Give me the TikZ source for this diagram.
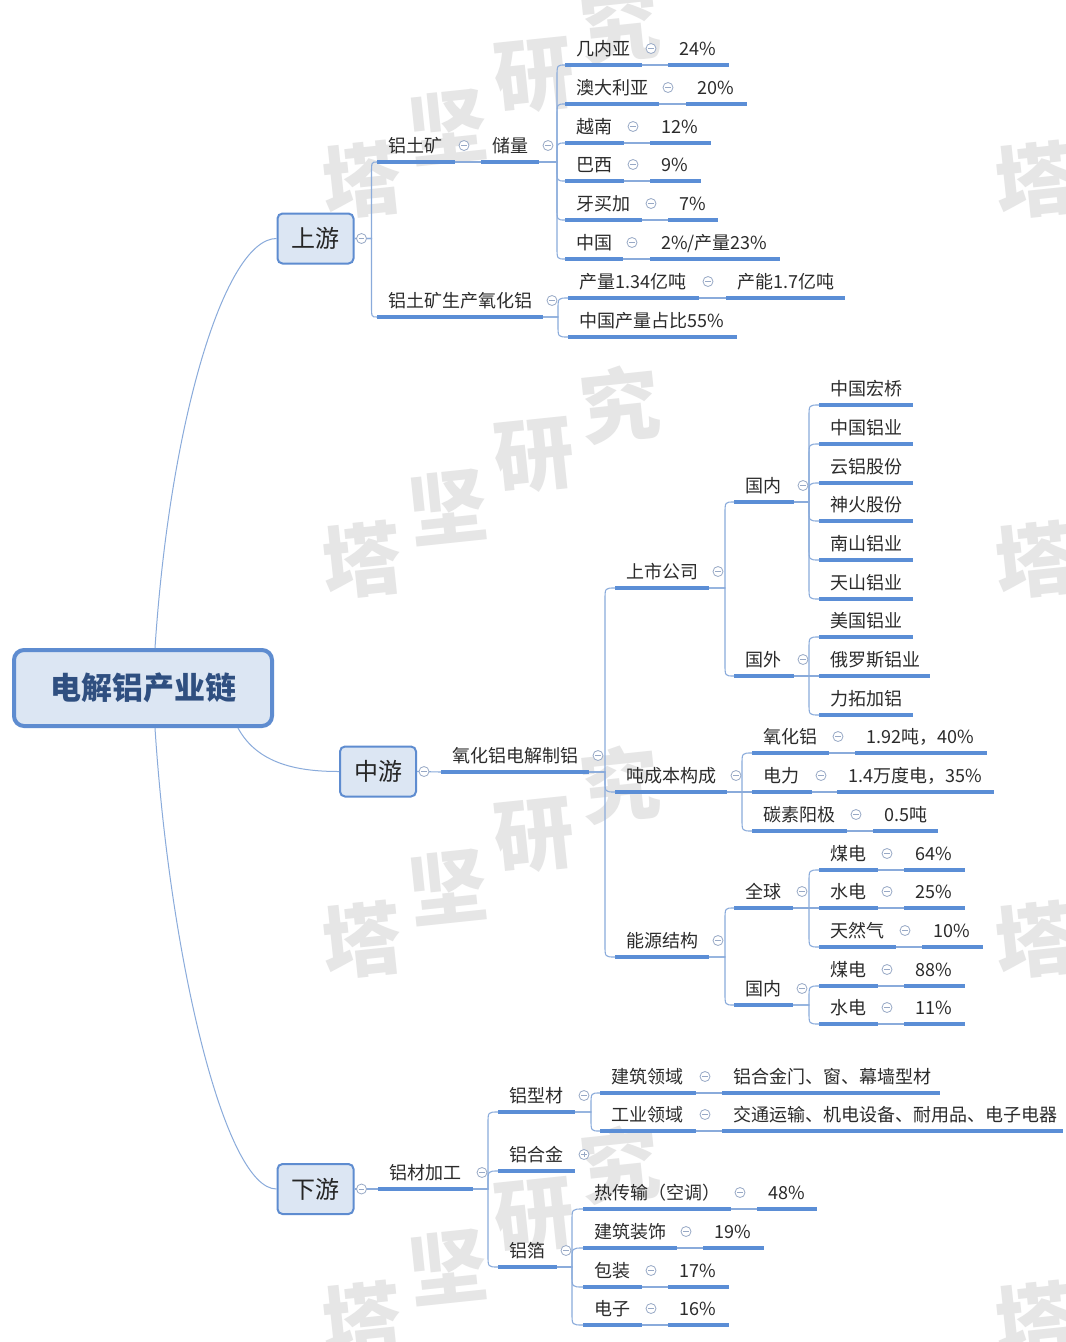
\documentclass[tikz,border=0pt]{standalone}
\usepackage{fontspec}
\newfontfamily\cjk{Noto Sans CJK SC}
\usetikzlibrary{calc}
\definecolor{ulc}{HTML}{5B8ED6}
\definecolor{connc}{HTML}{8AABDB}
\definecolor{boxfill}{HTML}{DCE6F3}
\definecolor{boxline}{HTML}{5E8CD0}
\definecolor{roottext}{HTML}{2F4F80}
\definecolor{iconc}{HTML}{98A9C6}
\definecolor{wmc}{HTML}{E6E6E6}
\definecolor{txt}{HTML}{2B2B2B}
\newcommand\mtopic[5]{%
  \coordinate (#1L) at (#2,#4);
  \coordinate (#1R) at (#3,#4);
  \draw[ul] (#1L) -- (#1R);
  \node[lbl] (#1) at (#2+11,#4-16.5) {#5};
}
\newcommand\mconn[4]{%
  \path ($(#1R)+(#3,0)$) coordinate (sp);
  \draw[conn] (#1R) -- (sp) -- ($(sp |- #2L)+(0,#4)$) .. controls (sp |- #2L) .. (#2L);
}
\newcommand\mconnS[2]{\draw[conn] (#1R) -- (#2L);}
\newcommand\micon[1]{%
  \node[icn] (#1I) at ($(#1R)+(9,-16.5)$) {};
  \draw[iconc, line width=0.8pt] ($(#1I)+(-2.8,0)$) -- ($(#1I)+(2.8,0)$);
}
\newcommand\miconP[1]{%
  \node[icn] (#1I) at ($(#1R)+(9,-16.5)$) {};
  \draw[iconc, line width=0.8pt] ($(#1I)+(-2.8,0)$) -- ($(#1I)+(2.8,0)$);
  \draw[iconc, line width=0.8pt] ($(#1I)+(0,-2.8)$) -- ($(#1I)+(0,2.8)$);
}
\newcommand\miconB[1]{%
  \node[icn] (#1I) at ($(#1.east)+(7,0)$) {};
  \draw[iconc, line width=0.8pt] ($(#1I)+(-2.8,0)$) -- ($(#1I)+(2.8,0)$);
}
\begin{document}
\begin{tikzpicture}[x={(1pt,0)},y={(0,-1pt)},
  ul/.style={draw=ulc, line width=3.2pt},
  conn/.style={draw=connc, line width=1.1pt},
  rconn/.style={draw=connc, line width=1pt},
  lbl/.style={font=\cjk\fontsize{18}{21}\selectfont, text=txt, inner sep=0pt, anchor=west, text height=15.8pt, text depth=2.2pt},
  lvone/.style={draw=boxline, fill=boxfill, line width=2pt, rounded corners=5pt, font=\cjk\fontsize{24}{28}\selectfont, text=black!85, minimum width=76pt, minimum height=50pt, inner sep=0pt},
  rootbox/.style={draw=boxline, fill=boxfill, line width=4pt, rounded corners=10pt, font=\cjk\bfseries\fontsize{31}{36}\selectfont, text=roottext, minimum width=258pt, minimum height=76pt, inner sep=0pt},
  icn/.style={circle, draw=iconc, fill=white, line width=0.8pt, minimum size=10pt, inner sep=0pt},
  wmk/.style={font=\cjk\bfseries\fontsize{80}{80}\selectfont, text=wmc, inner sep=0pt, rotate=6}
]
\useasboundingbox[fill=white] (0,0) rectangle (1066,1342);

% watermark
\foreach \bx/\by [count=\i] in {362/180, 362/560, 362/940, 362/1320, 1035/180, 1035/560, 1035/940, 1035/1320} {
  \node[wmk] (wm\i a) at (\bx,\by) {塔};
  \node[wmk] (wm\i b) at (\bx+86,\by-52) {坚};
  \node[wmk] (wm\i c) at (\bx+172,\by-104) {研};
  \node[wmk] (wm\i d) at (\bx+258,\by-156) {究};
}

% root and level one
\node[rootbox] (root) at (143,688) {电解铝产业链};
\node[lvone] (up) at (315.5,238.5) {上游};
\node[lvone] (mid) at (378,771.5) {中游};
\node[lvone] (down) at (315.5,1189) {下游};
\coordinate (upR) at (up.east);
\coordinate (midR) at (mid.east);
\coordinate (downR) at (down.east);
\coordinate (rootT) at ($(root.north)+(12,0)$);
\coordinate (rootB) at ($(root.south)+(12,0)$);
\coordinate (rootM) at ($(root.south east)+(-36,0)$);
\draw[rconn] (rootT) .. controls (170,420) and (225,238.5) .. (up.west);
\draw[rconn] (rootB) .. controls (170,960) and (225,1189) .. (down.west);
\draw[rconn] (rootM) .. controls (258,765) and (300,771.5) .. (mid.west);

% ---------- upstream
\mtopic{lt}{377}{455}{162}{铝土矿}
\mtopic{cl}{481}{539}{162}{储量}
\mtopic{ca}{565}{642}{65}{几内亚}   \mtopic{va}{668}{729}{65}{24\%}
\mtopic{cb}{565}{659}{104}{澳大利亚} \mtopic{vb}{686}{747}{104}{20\%}
\mtopic{cc}{565}{624}{143}{越南}     \mtopic{vc}{650}{711}{143}{12\%}
\mtopic{cd}{565}{624}{181}{巴西}     \mtopic{vd}{650}{701}{181}{9\%}
\mtopic{ce}{565}{642}{220}{牙买加}   \mtopic{ve}{668}{718}{220}{7\%}
\mtopic{cf}{565}{623}{259}{中国}     \mtopic{vf}{650}{780}{259}{2\%/产量23\%}
\mtopic{lp}{377}{543}{317}{铝土矿生产氧化铝}
\mtopic{pa}{568}{699}{298}{产量1.34亿吨} \mtopic{pb}{726}{845}{298}{产能1.7亿吨}
\mtopic{pc}{568}{737}{337}{中国产量占比55\%}

\mconn{up}{lt}{17}{12}
\mconn{up}{lp}{17}{-12}
\mconnS{lt}{cl}
\mconn{cl}{ca}{18}{12}
\mconn{cl}{cb}{18}{12}
\mconn{cl}{cc}{18}{12}
\mconn{cl}{cd}{18}{-12}
\mconn{cl}{ce}{18}{-12}
\mconn{cl}{cf}{18}{-12}
\mconnS{ca}{va}\mconnS{cb}{vb}\mconnS{cc}{vc}\mconnS{cd}{vd}\mconnS{ce}{ve}\mconnS{cf}{vf}
\mconn{lp}{pa}{15}{12}
\mconn{lp}{pc}{15}{-12}
\mconnS{pa}{pb}

% ---------- midstream
\mtopic{ox}{441}{589}{772}{氧化铝电解制铝}
\mtopic{ss}{615}{709}{588}{上市公司}
\mtopic{gn}{734}{794}{502}{国内}
\mtopic{gw}{734}{794}{676}{国外}
\mtopic{coa}{819}{913}{405}{中国宏桥}
\mtopic{cob}{819}{913}{444}{中国铝业}
\mtopic{coc}{819}{913}{483}{云铝股份}
\mtopic{cod}{819}{913}{521}{神火股份}
\mtopic{coe}{819}{913}{560}{南山铝业}
\mtopic{cof}{819}{913}{599}{天山铝业}
\mtopic{cog}{819}{913}{637}{美国铝业}
\mtopic{coh}{819}{930}{676}{俄罗斯铝业}
\mtopic{coi}{819}{913}{715}{力拓加铝}
\mtopic{dc}{615}{727}{792}{吨成本构成}
\mtopic{ka}{752}{829}{753}{氧化铝}   \mtopic{kva}{855}{987}{753}{1.92吨，40\%}
\mtopic{kb}{752}{812}{792}{电力}     \mtopic{kvb}{837}{994}{792}{1.4万度电，35\%}
\mtopic{kc}{752}{847}{831}{碳素阳极} \mtopic{kvc}{873}{938}{831}{0.5吨}
\mtopic{ny}{615}{709}{957}{能源结构}
\mtopic{qq}{734}{793}{908}{全球}
\mtopic{gd}{734}{793}{1005}{国内}
\mtopic{ea}{819}{878}{870}{煤电}   \mtopic{eva}{904}{965}{870}{64\%}
\mtopic{eb}{819}{878}{908}{水电}   \mtopic{evb}{904}{965}{908}{25\%}
\mtopic{ec}{819}{896}{947}{天然气} \mtopic{evc}{922}{983}{947}{10\%}
\mtopic{ed}{819}{878}{986}{煤电}   \mtopic{evd}{904}{965}{986}{88\%}
\mtopic{ee}{819}{878}{1024}{水电}  \mtopic{eve}{904}{965}{1024}{11\%}

\mconnS{mid}{ox}
\mconn{ox}{ss}{16}{12}
\mconn{ox}{dc}{16}{-12}
\mconn{ox}{ny}{16}{-12}
\mconn{ss}{gn}{16}{12}
\mconn{ss}{gw}{16}{-12}
\mconn{gn}{coa}{15}{12}
\mconn{gn}{cob}{15}{12}
\mconn{gn}{coc}{15}{12}
\mconn{gn}{cod}{15}{-12}
\mconn{gn}{coe}{15}{-12}
\mconn{gn}{cof}{15}{-12}
\mconn{gw}{cog}{15}{12}
\mconnS{gw}{coh}
\mconn{gw}{coi}{15}{-12}
\mconn{dc}{ka}{15}{12}
\mconnS{dc}{kb}
\mconn{dc}{kc}{15}{-12}
\mconnS{ka}{kva}\mconnS{kb}{kvb}\mconnS{kc}{kvc}
\mconn{ny}{qq}{16}{12}
\mconn{ny}{gd}{16}{-12}
\mconn{qq}{ea}{16}{12}
\mconnS{qq}{eb}
\mconn{qq}{ec}{16}{-12}
\mconn{gd}{ed}{16}{12}
\mconn{gd}{ee}{16}{-12}
\mconnS{ea}{eva}\mconnS{eb}{evb}\mconnS{ec}{evc}\mconnS{ed}{evd}\mconnS{ee}{eve}

% ---------- downstream
\mtopic{jg}{378}{473}{1189}{铝材加工}
\mtopic{xc}{498}{575}{1112}{铝型材}
\mtopic{hj}{498}{575}{1171}{铝合金}
\mtopic{lb}{498}{557}{1267}{铝箔}
\mtopic{jz}{600}{696}{1093}{建筑领域} \mtopic{jzv}{722}{940}{1093}{铝合金门、窗、幕墙型材}
\mtopic{gy}{600}{696}{1131}{工业领域} \mtopic{gyv}{722}{1063}{1131}{交通运输、机电设备、耐用品、电子电器}
\mtopic{fa}{583}{731}{1209}{热传输（空调）} \mtopic{fva}{757}{817}{1209}{48\%}
\mtopic{fb}{583}{677}{1248}{建筑装饰}     \mtopic{fvb}{703}{764}{1248}{19\%}
\mtopic{fc}{583}{642}{1287}{包装}         \mtopic{fvc}{668}{729}{1287}{17\%}
\mtopic{fd}{583}{642}{1325}{电子}         \mtopic{fvd}{668}{729}{1325}{16\%}

\mconnS{down}{jg}
\mconn{jg}{xc}{15}{12}
\mconn{jg}{hj}{15}{12}
\mconn{jg}{lb}{15}{-12}
\mconn{xc}{jz}{16}{12}
\mconn{xc}{gy}{16}{-12}
\mconnS{jz}{jzv}\mconnS{gy}{gyv}
\mconn{lb}{fa}{15}{12}
\mconn{lb}{fb}{15}{12}
\mconn{lb}{fc}{15}{-12}
\mconn{lb}{fd}{15}{-12}
\mconnS{fa}{fva}\mconnS{fb}{fvb}\mconnS{fc}{fvc}\mconnS{fd}{fvd}

% ---------- icons
\miconB{up}\miconB{mid}\miconB{down}
\micon{lt}\micon{cl}\micon{ca}\micon{cb}\micon{cc}\micon{cd}\micon{ce}\micon{cf}
\micon{lp}\micon{pa}
\micon{ox}\micon{ss}\micon{gn}\micon{gw}\micon{dc}\micon{ka}\micon{kb}\micon{kc}
\micon{ny}\micon{qq}\micon{gd}\micon{ea}\micon{eb}\micon{ec}\micon{ed}\micon{ee}
\micon{jg}\micon{xc}\miconP{hj}\micon{lb}\micon{jz}\micon{gy}
\micon{fa}\micon{fb}\micon{fc}\micon{fd}
\end{tikzpicture}
\end{document}
